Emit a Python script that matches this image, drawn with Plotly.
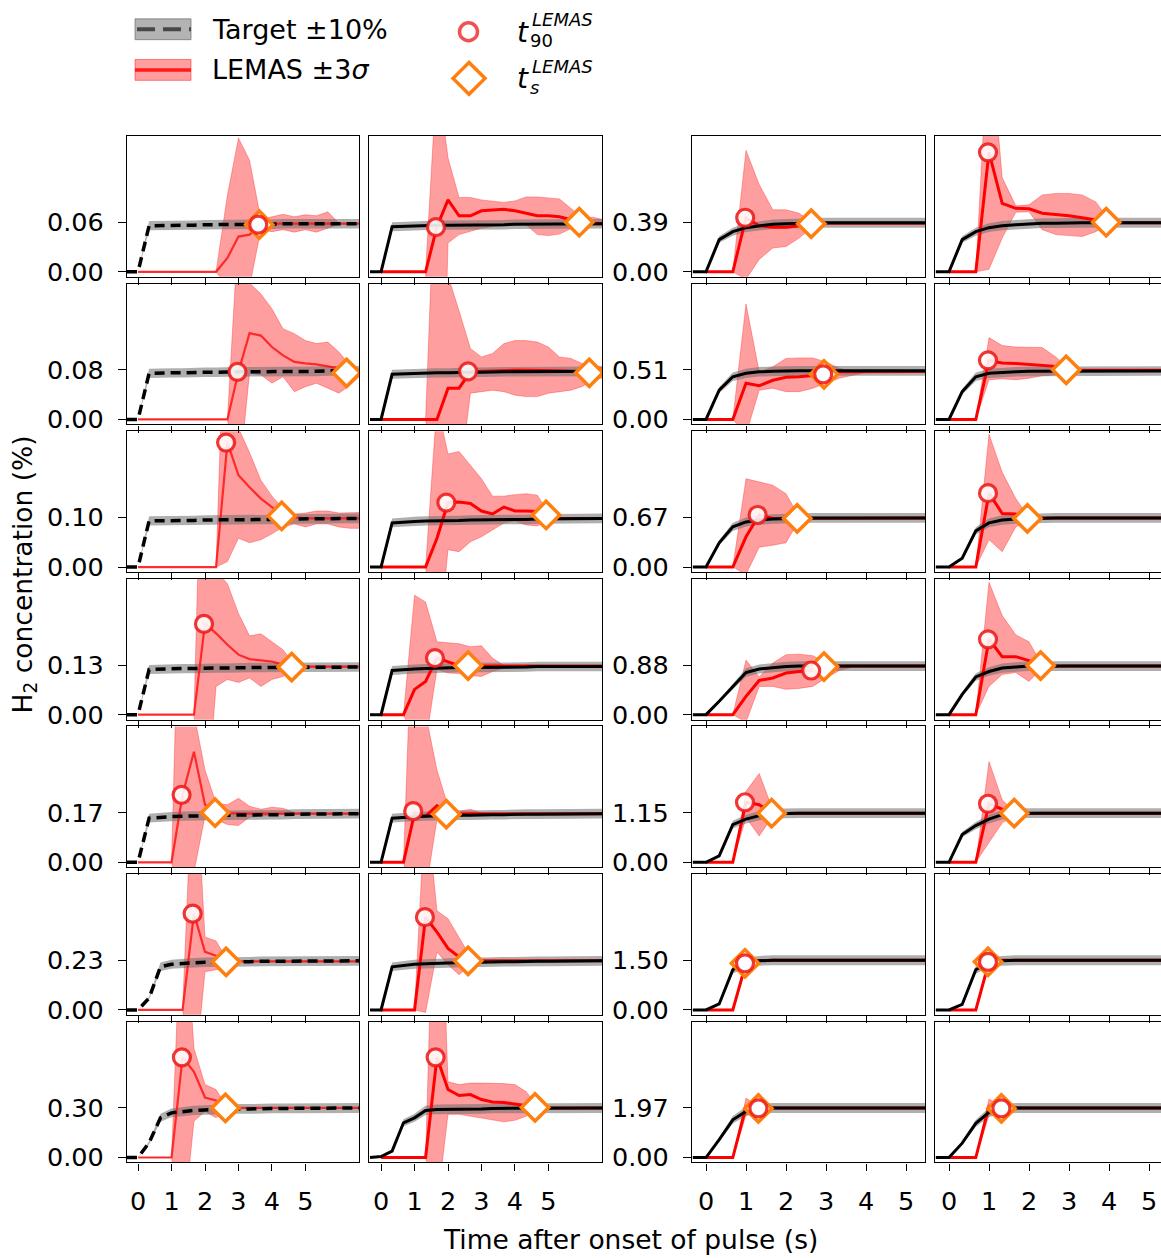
import plotly.graph_objects as go

# ---------------- data ----------------
time_s = [-0.33, 0.0, 0.33, 0.67, 1.0, 1.33, 1.67, 2.0, 2.33, 2.67, 3.0, 3.33,
          3.67, 4.0, 4.33, 4.67, 5.0, 5.33, 5.67, 6.0, 6.33, 6.67]
time_lemas = [0.0, 0.33, 0.67, 1.0, 1.33, 1.67, 2.0, 2.33, 2.67, 3.0, 3.33,
              3.67, 4.0, 4.33, 4.67, 5.0, 5.33, 5.67, 6.0, 6.33, 6.67]

target_left = [0.06, 0.08, 0.10, 0.13, 0.17, 0.23, 0.30]
target_right = [0.39, 0.51, 0.67, 0.88, 1.15, 1.50, 1.97]
x_tick_labels = [0, 1, 2, 3, 4, 5]

# values relative to the target concentration of each panel
# row 1
tgt_1_1 = [0, 0, 0.93, 0.93, 0.94, 0.94, 0.94, 0.95, 0.95, 0.95, 0.96, 0.96, 0.96, 0.96, 0.97, 0.97, 0.97, 0.97, 0.97, 0.97, 0.97, 0.97]
mu_1_1 = [0, 0, 0, 0, 0, 0, 0, 0, 0.28, 0.71, 0.75, 0.95, 0.97, 0.97, 0.97, 0.97, 0.97, 0.97, 0.97, 0.97, 0.97]
lo_1_1 = [0, 0, 0, 0, 0, 0, 0, 0, -0.3, -0.5, -0.3, 0.85, 0.81, 0.85, 0.8, 0.85, 0.8, 0.88, 0.96, 0.96, 0.96]
hi_1_1 = [0, 0, 0, 0, 0, 0, 0, 0, 1.55, 2.7, 2.25, 1.05, 1.11, 1.16, 1.11, 1.15, 1.13, 1.21, 0.98, 0.98, 0.98]

tgt_1_2 = [0, 0, 0.91, 0.92, 0.93, 0.93, 0.94, 0.94, 0.94, 0.95, 0.95, 0.95, 0.95, 0.96, 0.96, 0.96, 0.96, 0.96, 0.97, 0.97, 0.97, 0.97]
mu_1_2 = [0, 0, 0, 0, 0, 0.91, 1.45, 1.13, 1.13, 1.23, 1.25, 1.26, 1.23, 1.18, 1.13, 1.13, 1.11, 1.05, 0.99, 0.97, 0.97]
lo_1_2 = [0, 0, 0, 0, 0, -8.0, 0.58, 0.75, 0.81, 0.88, 0.91, 0.93, 0.98, 0.95, 0.75, 0.73, 0.76, 0.87, 0.95, 0.95, 0.95]
hi_1_2 = [0, 0, 0, 0, 0, 4.0, 2.3, 1.5, 1.5, 1.45, 1.43, 1.4, 1.43, 1.51, 1.51, 1.49, 1.47, 1.28, 1.09, 1.1, 1.05]

tgt_1_3 = [0, 0, 0.65, 0.81, 0.89, 0.93, 0.96, 0.97, 0.98, 0.98, 0.99, 0.99, 0.99, 0.99, 0.99, 0.99, 0.99, 0.99, 0.99, 0.99, 0.99, 0.99]
mu_1_3 = [0, 0, 0, 1.09, 0.93, 0.9, 0.9, 0.93, 0.97, 0.98, 0.98, 0.98, 0.98, 0.98, 0.98, 0.98, 0.98, 0.98, 0.98, 0.98, 0.98]
lo_1_3 = [0, 0, 0, -0.15, 0.25, 0.48, 0.51, 0.68, 0.91, 0.98, 0.98, 0.98, 0.98, 0.98, 0.98, 0.98, 0.98, 0.98, 0.98, 0.98, 0.98]
hi_1_3 = [0, 0, 0, 2.45, 1.76, 1.25, 1.25, 1.18, 0.99, 0.98, 0.98, 0.98, 0.98, 0.98, 0.98, 0.98, 0.98, 0.98, 0.98, 0.98, 0.98]

tgt_1_4 = [0, 0, 0.65, 0.81, 0.89, 0.93, 0.95, 0.97, 0.98, 0.98, 0.99, 0.99, 0.99, 0.99, 0.99, 0.99, 0.99, 0.99, 0.99, 0.99, 0.99, 0.99]
mu_1_4 = [0, 0, 0, 2.41, 1.38, 1.28, 1.27, 1.18, 1.16, 1.13, 1.09, 1.05, 1.0, 0.99, 0.99, 0.99, 0.99, 0.99, 0.99, 0.99, 0.99]
lo_1_4 = [0, 0, 0, 0.05, 0.68, 1.2, 1.21, 0.85, 0.75, 0.73, 0.71, 0.81, 0.98, 0.99, 0.99, 0.99, 0.99, 0.99, 0.99, 0.99, 0.99]
hi_1_4 = [0, 0, 0, 5.0, 1.9, 1.33, 1.35, 1.55, 1.58, 1.58, 1.55, 1.41, 1.05, 0.99, 0.99, 0.99, 0.99, 0.99, 0.99, 0.99, 0.99]

# row 2
tgt_2_1 = [0, 0, 0.93, 0.94, 0.94, 0.94, 0.95, 0.95, 0.95, 0.96, 0.96, 0.96, 0.96, 0.97, 0.97, 0.97, 0.97, 0.97, 0.98, 0.98, 0.98, 0.98]
mu_2_1 = [0, 0, 0, 0, 0, 0, 0, 0, 0, 0.96, 1.74, 1.69, 1.46, 1.29, 1.16, 1.13, 1.11, 1.07, 1.03, 0.96, 0.97]
lo_2_1 = [0, 0, 0, 0, 0, 0, 0, 0, 0, -1.3, 0.93, 0.9, 0.73, 0.86, 0.56, 0.66, 0.73, 0.63, 0.53, 0.69, 0.9]
hi_2_1 = [0, 0, 0, 0, 0, 0, 0, 0, 0, 3.9, 2.75, 2.53, 2.23, 1.83, 1.73, 1.59, 1.53, 1.56, 1.36, 1.09, 1.0]

tgt_2_2 = [0, 0, 0.91, 0.92, 0.93, 0.93, 0.94, 0.94, 0.95, 0.95, 0.95, 0.96, 0.96, 0.96, 0.96, 0.97, 0.97, 0.97, 0.97, 0.97, 0.97, 0.97]
mu_2_2 = [0, 0, 0, 0, 0, 0, 0.63, 0.63, 0.96, 0.97, 0.97, 0.98, 0.99, 0.99, 0.99, 0.99, 0.98, 0.97, 0.96, 0.95, 0.95]
lo_2_2 = [0, 0, 0, 0, 0, -1.5, -1.5, -1.33, 0.53, 0.56, 0.59, 0.56, 0.49, 0.46, 0.46, 0.53, 0.56, 0.59, 0.66, 0.79, 0.85]
hi_2_2 = [0, 0, 0, 0, 0, 6.0, 2.9, 2.19, 1.43, 1.26, 1.33, 1.53, 1.59, 1.59, 1.56, 1.46, 1.26, 1.23, 1.13, 1.09, 1.05]

tgt_2_3 = [0, 0, 0.59, 0.86, 0.93, 0.96, 0.97, 0.98, 0.98, 0.98, 0.98, 0.98, 0.98, 0.98, 0.98, 0.98, 0.98, 0.98, 0.98, 0.98, 0.98, 0.98]
mu_2_3 = [0, 0, 0, 0.73, 0.68, 0.79, 0.85, 0.86, 0.89, 0.91, 0.96, 0.96, 0.97, 0.97, 0.97, 0.97, 0.97, 0.97, 0.97, 0.97, 0.97]
lo_2_3 = [0, 0, 0, -0.3, 0.59, 0.63, 0.56, 0.56, 0.63, 0.73, 0.83, 0.89, 0.95, 0.96, 0.97, 0.97, 0.97, 0.97, 0.97, 0.97, 0.97]
hi_2_3 = [0, 0, 0, 2.33, 0.96, 1.06, 1.23, 1.24, 1.24, 1.16, 1.03, 0.97, 0.97, 0.97, 0.97, 0.97, 0.97, 0.97, 0.97, 0.97, 0.97]

tgt_2_4 = [0, 0, 0.56, 0.86, 0.93, 0.95, 0.96, 0.97, 0.97, 0.98, 0.98, 0.98, 0.98, 0.98, 0.98, 0.98, 0.98, 0.98, 0.98, 0.98, 0.98, 0.98]
mu_2_4 = [0, 0, 0, 1.19, 1.14, 1.13, 1.11, 1.09, 1.07, 1.01, 0.99, 0.99, 0.99, 0.99, 0.99, 0.99, 0.99, 0.99, 0.99, 0.99, 0.99]
lo_2_4 = [0, 0, 0, 0.8, 0.82, 0.8, 0.83, 0.88, 0.9, 0.97, 0.99, 0.99, 0.99, 0.99, 0.99, 0.99, 0.99, 0.99, 0.99, 0.99, 0.99]
hi_2_4 = [0, 0, 0, 1.65, 1.49, 1.46, 1.46, 1.45, 1.26, 1.01, 0.99, 0.99, 0.99, 0.99, 0.99, 0.99, 0.99, 0.99, 0.99, 0.99, 0.99]

# row 3
tgt_3_1 = [0, 0, 0.93, 0.93, 0.94, 0.94, 0.94, 0.95, 0.95, 0.95, 0.95, 0.96, 0.96, 0.96, 0.96, 0.97, 0.97, 0.97, 0.97, 0.97, 0.98, 0.98]
mu_3_1 = [0, 0, 0, 0, 0, 0, 0, 0, 2.51, 1.85, 1.61, 1.38, 1.21, 1.05, 1.0, 0.98, 0.98, 0.98, 0.98, 0.98, 0.98]
lo_3_1 = [0, 0, 0, 0, 0, 0, 0, 0, 0.11, 0.58, 0.49, 0.55, 0.67, 0.81, 0.87, 0.81, 0.87, 0.87, 0.81, 0.78, 0.78]
hi_3_1 = [0, 0, 0, 0, 0, 0, 0, 0, 7.0, 2.8, 2.31, 1.75, 1.43, 1.18, 1.07, 1.09, 1.13, 1.13, 1.09, 1.09, 1.1]

tgt_3_2 = [0, 0, 0.89, 0.91, 0.92, 0.93, 0.93, 0.94, 0.94, 0.95, 0.95, 0.95, 0.96, 0.96, 0.96, 0.97, 0.97, 0.97, 0.97, 0.98, 0.98, 0.98]
mu_3_2 = [0, 0, 0, 0, 0, 0.58, 1.3, 1.31, 1.28, 1.13, 1.07, 1.21, 1.13, 1.13, 1.12, 1.01, 0.98, 0.98, 0.98, 0.98, 0.98]
lo_3_2 = [0, 0, 0, 0, 0, -1.9, 0.35, 0.31, 0.51, 0.61, 0.75, 0.89, 0.93, 0.85, 0.83, 0.95, 0.97, 0.97, 0.97, 0.97, 0.97]
hi_3_2 = [0, 0, 0, 0, 0, 3.3, 2.28, 2.33, 2.05, 1.78, 1.43, 1.43, 1.46, 1.48, 1.45, 1.09, 1.0, 1.0, 1.0, 1.0, 1.0]

tgt_3_3 = [0, 0, 0.49, 0.81, 0.91, 0.95, 0.97, 0.98, 0.99, 0.99, 0.99, 0.99, 0.99, 0.99, 0.99, 0.99, 0.99, 0.99, 0.99, 0.99, 0.99, 0.99]
mu_3_3 = [0, 0, 0, 0.61, 1.05, 0.98, 0.98, 0.98, 0.99, 0.99, 0.99, 0.99, 0.99, 0.99, 0.99, 0.99, 0.99, 0.99, 0.99, 0.99, 0.99]
lo_3_3 = [0, 0, 0, -0.15, 0.4, 0.44, 0.49, 0.95, 0.99, 0.99, 0.99, 0.99, 0.99, 0.99, 0.99, 0.99, 0.99, 0.99, 0.99, 0.99, 0.99]
hi_3_3 = [0, 0, 0, 1.78, 1.71, 1.65, 1.48, 1.01, 0.99, 0.99, 0.99, 0.99, 0.99, 0.99, 0.99, 0.99, 0.99, 0.99, 0.99, 0.99, 0.99]

tgt_3_4 = [0, 0, 0.18, 0.73, 0.89, 0.95, 0.97, 0.98, 0.99, 0.99, 0.99, 0.99, 0.99, 0.99, 0.99, 0.99, 0.99, 0.99, 0.99, 0.99, 0.99, 0.99]
mu_3_4 = [0, 0, 0, 1.49, 1.08, 1.07, 0.98, 0.99, 0.99, 0.99, 0.99, 0.99, 0.99, 0.99, 0.99, 0.99, 0.99, 0.99, 0.99, 0.99, 0.99]
lo_3_4 = [0, 0, 0, 0.55, 0.31, 0.81, 0.95, 0.99, 0.99, 0.99, 0.99, 0.99, 0.99, 0.99, 0.99, 0.99, 0.99, 0.99, 0.99, 0.99, 0.99]
hi_3_4 = [0, 0, 0, 2.68, 1.91, 1.38, 1.0, 0.99, 0.99, 0.99, 0.99, 0.99, 0.99, 0.99, 0.99, 0.99, 0.99, 0.99, 0.99, 0.99, 0.99]

# row 4
tgt_4_1 = [0, 0, 0.91, 0.92, 0.92, 0.93, 0.93, 0.94, 0.94, 0.94, 0.95, 0.95, 0.95, 0.95, 0.96, 0.96, 0.96, 0.96, 0.96, 0.96, 0.96, 0.96]
mu_4_1 = [0, 0, 0, 0, 0, 0, 1.84, 1.64, 1.41, 1.21, 1.12, 1.09, 1.07, 1.01, 0.96, 0.97, 0.97, 0.97, 0.97, 0.97, 0.97]
lo_4_1 = [0, 0, 0, 0, 0, 0, -2.2, 0.57, 0.71, 0.65, 0.74, 0.57, 0.71, 0.77, 0.91, 0.95, 0.95, 0.95, 0.95, 0.95, 0.95]
hi_4_1 = [0, 0, 0, 0, 0, 0, 8.3, 2.9, 2.64, 2.04, 1.59, 1.63, 1.47, 1.31, 1.01, 0.98, 0.98, 0.98, 0.98, 0.98, 0.98]

tgt_4_2 = [0, 0, 0.89, 0.91, 0.92, 0.93, 0.94, 0.94, 0.95, 0.95, 0.95, 0.96, 0.96, 0.96, 0.96, 0.97, 0.97, 0.97, 0.97, 0.97, 0.97, 0.97]
mu_4_2 = [0, 0, 0, 0.51, 0.67, 1.14, 1.07, 0.99, 0.98, 0.98, 0.98, 0.98, 0.98, 0.98, 0.98, 0.98, 0.98, 0.98, 0.98, 0.98, 0.98]
lo_4_2 = [0, 0, 0, -0.5, -0.58, 0.91, 0.84, 0.83, 0.79, 0.77, 0.87, 0.94, 0.97, 0.97, 0.97, 0.97, 0.97, 0.97, 0.97, 0.97, 0.97]
hi_4_2 = [0, 0, 0, 2.41, 2.27, 1.47, 1.45, 1.43, 1.37, 1.39, 1.14, 0.99, 0.98, 0.98, 0.98, 0.98, 0.98, 0.98, 0.98, 0.98, 0.98]

tgt_4_3 = [0, 0, 0.27, 0.57, 0.85, 0.92, 0.95, 0.97, 0.98, 0.98, 0.98, 0.98, 0.98, 0.98, 0.98, 0.98, 0.98, 0.98, 0.98, 0.98, 0.98, 0.98]
mu_4_3 = [0, 0, 0, 0.37, 0.69, 0.74, 0.84, 0.87, 0.89, 0.97, 0.98, 0.98, 0.98, 0.98, 0.98, 0.98, 0.98, 0.98, 0.98, 0.98, 0.98]
lo_4_3 = [0, 0, 0, -0.15, 0.57, 0.57, 0.51, 0.53, 0.57, 0.74, 0.89, 0.96, 0.98, 0.98, 0.98, 0.98, 0.98, 0.98, 0.98, 0.98, 0.98]
hi_4_3 = [0, 0, 0, 1.1, 0.76, 1.04, 1.21, 1.22, 1.19, 1.05, 1.0, 0.99, 0.98, 0.98, 0.98, 0.98, 0.98, 0.98, 0.98, 0.98, 0.98]

tgt_4_4 = [0, 0, 0.41, 0.76, 0.87, 0.94, 0.96, 0.98, 0.98, 0.98, 0.98, 0.98, 0.98, 0.98, 0.98, 0.98, 0.98, 0.98, 0.98, 0.98, 0.98, 0.98]
mu_4_4 = [0, 0, 0, 1.52, 1.17, 1.17, 1.09, 0.97, 0.98, 0.98, 0.98, 0.98, 0.98, 0.98, 0.98, 0.98, 0.98, 0.98, 0.98, 0.98, 0.98]
lo_4_4 = [0, 0, 0, 0.57, 0.81, 0.85, 0.67, 0.94, 0.98, 0.98, 0.98, 0.98, 0.98, 0.98, 0.98, 0.98, 0.98, 0.98, 0.98, 0.98, 0.98]
hi_4_4 = [0, 0, 0, 2.67, 2.0, 1.61, 1.47, 1.0, 0.98, 0.98, 0.98, 0.98, 0.98, 0.98, 0.98, 0.98, 0.98, 0.98, 0.98, 0.98, 0.98]

# row 5
tgt_5_1 = [0, 0, 0.89, 0.91, 0.92, 0.93, 0.93, 0.94, 0.94, 0.95, 0.95, 0.95, 0.96, 0.96, 0.96, 0.97, 0.97, 0.97, 0.97, 0.98, 0.98, 0.98]
mu_5_1 = [0, 0, 0, 0, 1.36, 2.23, 1.16, 1.01, 0.99, 0.98, 0.98, 0.98, 0.98, 0.98, 0.98, 0.98, 0.98, 0.98, 0.98, 0.98, 0.98]
lo_5_1 = [0, 0, 0, 0, -1.0, -0.2, 0.93, 0.86, 0.76, 0.74, 0.91, 0.93, 0.96, 0.97, 0.97, 0.97, 0.97, 0.97, 0.97, 0.97, 0.97]
hi_5_1 = [0, 0, 0, 0, 8.3, 3.0, 1.86, 1.19, 1.16, 1.29, 1.13, 1.07, 1.11, 1.09, 1.0, 0.99, 0.99, 0.99, 0.99, 0.99, 0.99]

tgt_5_2 = [0, 0, 0.89, 0.91, 0.92, 0.93, 0.94, 0.94, 0.95, 0.95, 0.96, 0.96, 0.96, 0.97, 0.97, 0.97, 0.97, 0.98, 0.98, 0.98, 0.98, 0.98]
mu_5_2 = [0, 0, 0, 0.99, 0.93, 1.14, 0.96, 0.98, 0.98, 0.98, 0.98, 0.98, 0.98, 0.98, 0.98, 0.98, 0.98, 0.98, 0.98, 0.98, 0.98]
lo_5_2 = [0, 0, 0, -1.0, -0.6, 0.86, 0.89, 0.93, 0.96, 0.98, 0.98, 0.98, 0.98, 0.98, 0.98, 0.98, 0.98, 0.98, 0.98, 0.98, 0.98]
hi_5_2 = [0, 0, 0, 6.2, 3.0, 1.86, 1.13, 1.03, 1.07, 0.99, 0.98, 0.98, 0.98, 0.98, 0.98, 0.98, 0.98, 0.98, 0.98, 0.98, 0.98]

tgt_5_3 = [0, 0, 0.13, 0.76, 0.87, 0.94, 0.98, 0.99, 0.99, 0.99, 0.99, 0.99, 0.99, 0.99, 0.99, 0.99, 0.99, 0.99, 0.99, 0.99, 0.99, 0.99]
mu_5_3 = [0, 0, 0, 1.21, 1.16, 0.98, 0.99, 0.99, 0.99, 0.99, 0.99, 0.99, 0.99, 0.99, 0.99, 0.99, 0.99, 0.99, 0.99, 0.99, 0.99]
lo_5_3 = [0, 0, 0, 0.9, 0.53, 0.93, 0.99, 0.99, 0.99, 0.99, 0.99, 0.99, 0.99, 0.99, 0.99, 0.99, 0.99, 0.99, 0.99, 0.99, 0.99]
hi_5_3 = [0, 0, 0, 1.43, 1.79, 1.06, 0.99, 0.99, 0.99, 0.99, 0.99, 0.99, 0.99, 0.99, 0.99, 0.99, 0.99, 0.99, 0.99, 0.99, 0.99]

tgt_5_4 = [0, 0, 0.56, 0.74, 0.87, 0.96, 0.99, 0.99, 0.99, 0.99, 0.99, 0.99, 0.99, 0.99, 0.99, 0.99, 0.99, 0.99, 0.99, 0.99, 0.99, 0.99]
mu_5_4 = [0, 0, 0, 1.18, 1.07, 0.98, 0.99, 0.99, 0.99, 0.99, 0.99, 0.99, 0.99, 0.99, 0.99, 0.99, 0.99, 0.99, 0.99, 0.99, 0.99]
lo_5_4 = [0, 0, 0, 0.4, 0.79, 0.98, 0.99, 0.99, 0.99, 0.99, 0.99, 0.99, 0.99, 0.99, 0.99, 0.99, 0.99, 0.99, 0.99, 0.99, 0.99]
hi_5_4 = [0, 0, 0, 2.03, 1.26, 0.99, 0.99, 0.99, 0.99, 0.99, 0.99, 0.99, 0.99, 0.99, 0.99, 0.99, 0.99, 0.99, 0.99, 0.99, 0.99]

# row 6
tgt_6_1 = [0, 0, 0.24, 0.87, 0.92, 0.94, 0.95, 0.96, 0.96, 0.97, 0.97, 0.97, 0.98, 0.98, 0.98, 0.98, 0.99, 0.99, 0.99, 0.99, 0.99, 0.99]
mu_6_1 = [0, 0, 0, 0, 0, 1.94, 1.17, 1.09, 0.97, 0.98, 0.98, 0.98, 0.98, 0.98, 0.98, 0.98, 0.98, 0.98, 0.98, 0.98, 0.98]
lo_6_1 = [0, 0, 0, 0, 0, -1.5, 0.77, 0.81, 0.87, 0.97, 0.98, 0.98, 0.98, 0.98, 0.98, 0.98, 0.98, 0.98, 0.98, 0.98, 0.98]
hi_6_1 = [0, 0, 0, 0, 0, 5.5, 1.47, 1.39, 1.0, 0.98, 0.98, 0.98, 0.98, 0.98, 0.98, 0.98, 0.98, 0.98, 0.98, 0.98, 0.98]

tgt_6_2 = [0, 0, 0.87, 0.9, 0.92, 0.93, 0.94, 0.95, 0.95, 0.96, 0.96, 0.97, 0.97, 0.97, 0.98, 0.98, 0.98, 0.98, 0.99, 0.99, 0.99, 0.99]
mu_6_2 = [0, 0, 0, 0, 1.87, 1.57, 1.24, 1.07, 0.99, 0.99, 0.99, 0.99, 0.99, 0.99, 0.99, 0.99, 0.99, 0.99, 0.99, 0.99, 0.99]
lo_6_2 = [0, 0, 0, 0, -0.05, 1.17, 0.91, 0.71, 0.91, 0.98, 0.98, 0.98, 0.98, 0.98, 0.98, 0.98, 0.98, 0.98, 0.98, 0.98, 0.98]
hi_6_2 = [0, 0, 0, 0, 4.3, 2.0, 1.84, 1.47, 1.07, 1.0, 1.0, 1.0, 1.0, 1.0, 1.0, 1.0, 1.0, 1.0, 1.0, 1.0, 1.0]

tgt_6_3 = [0, 0, 0.12, 0.81, 0.96, 0.99, 1.0, 1.0, 1.0, 1.0, 1.0, 1.0, 1.0, 1.0, 1.0, 1.0, 1.0, 1.0, 1.0, 1.0, 1.0, 1.0]
mu_6_3 = [0, 0, 0, 0.94, 0.99, 1.0, 1.0, 1.0, 1.0, 1.0, 1.0, 1.0, 1.0, 1.0, 1.0, 1.0, 1.0, 1.0, 1.0, 1.0, 1.0]
lo_6_3 = [0, 0, 0, 0.85, 0.97, 1.0, 1.0, 1.0, 1.0, 1.0, 1.0, 1.0, 1.0, 1.0, 1.0, 1.0, 1.0, 1.0, 1.0, 1.0, 1.0]
hi_6_3 = [0, 0, 0, 1.03, 1.01, 1.0, 1.0, 1.0, 1.0, 1.0, 1.0, 1.0, 1.0, 1.0, 1.0, 1.0, 1.0, 1.0, 1.0, 1.0, 1.0]

tgt_6_4 = [0, 0, 0.11, 0.81, 0.96, 0.99, 1.0, 1.0, 1.0, 1.0, 1.0, 1.0, 1.0, 1.0, 1.0, 1.0, 1.0, 1.0, 1.0, 1.0, 1.0, 1.0]
mu_6_4 = [0, 0, 0, 0.97, 1.0, 1.0, 1.0, 1.0, 1.0, 1.0, 1.0, 1.0, 1.0, 1.0, 1.0, 1.0, 1.0, 1.0, 1.0, 1.0, 1.0]
lo_6_4 = [0, 0, 0, 0.88, 0.98, 1.0, 1.0, 1.0, 1.0, 1.0, 1.0, 1.0, 1.0, 1.0, 1.0, 1.0, 1.0, 1.0, 1.0, 1.0, 1.0]
hi_6_4 = [0, 0, 0, 1.05, 1.01, 1.0, 1.0, 1.0, 1.0, 1.0, 1.0, 1.0, 1.0, 1.0, 1.0, 1.0, 1.0, 1.0, 1.0, 1.0, 1.0]

# row 7
tgt_7_1 = [0, 0, 0.3, 0.8, 0.9, 0.93, 0.95, 0.96, 0.97, 0.98, 0.98, 0.98, 0.99, 0.99, 0.99, 0.99, 0.99, 1.0, 1.0, 1.0, 1.0, 1.0]
mu_7_1 = [0, 0, 0, 0, 2.02, 1.73, 1.21, 1.15, 1.0, 1.0, 1.0, 1.0, 1.0, 1.0, 1.0, 1.0, 1.0, 1.0, 1.0, 1.0, 1.0]
lo_7_1 = [0, 0, 0, 0, -1.5, 0.73, 0.93, 0.8, 0.97, 0.99, 0.99, 0.99, 0.99, 0.99, 0.99, 0.99, 0.99, 0.99, 0.99, 0.99, 0.99]
hi_7_1 = [0, 0, 0, 0, 5.7, 2.2, 1.47, 1.37, 1.0, 1.0, 1.0, 1.0, 1.0, 1.0, 1.0, 1.0, 1.0, 1.0, 1.0, 1.0, 1.0]

tgt_7_2 = [0, 0.02, 0.13, 0.7, 0.8, 0.95, 0.97, 0.97, 0.98, 0.98, 0.98, 0.99, 0.99, 0.99, 0.99, 0.99, 0.99, 0.99, 1.0, 1.0, 1.0, 1.0]
mu_7_2 = [0, 0, 0, 0, 0, 2.02, 1.37, 1.25, 1.27, 1.17, 1.12, 1.11, 1.08, 1.05, 1.01, 1.0, 1.0, 1.0, 1.0, 1.0, 1.0]
lo_7_2 = [0, 0, 0, 0, 0, -1.0, 0.87, 0.87, 0.83, 0.8, 0.75, 0.72, 0.75, 0.83, 0.97, 0.99, 0.99, 0.99, 0.99, 0.99, 0.99]
hi_7_2 = [0, 0, 0, 0, 0, 8.0, 1.53, 1.47, 1.5, 1.5, 1.5, 1.49, 1.47, 1.33, 1.03, 1.0, 1.0, 1.0, 1.0, 1.0, 1.0]

tgt_7_3 = [0, 0, 0.36, 0.76, 0.93, 0.99, 1.0, 1.0, 1.0, 1.0, 1.0, 1.0, 1.0, 1.0, 1.0, 1.0, 1.0, 1.0, 1.0, 1.0, 1.0, 1.0]
mu_7_3 = [0, 0, 0, 1.02, 0.99, 1.0, 1.0, 1.0, 1.0, 1.0, 1.0, 1.0, 1.0, 1.0, 1.0, 1.0, 1.0, 1.0, 1.0, 1.0, 1.0]
lo_7_3 = [0, 0, 0, 0.85, 0.97, 1.0, 1.0, 1.0, 1.0, 1.0, 1.0, 1.0, 1.0, 1.0, 1.0, 1.0, 1.0, 1.0, 1.0, 1.0, 1.0]
hi_7_3 = [0, 0, 0, 1.2, 1.02, 1.0, 1.0, 1.0, 1.0, 1.0, 1.0, 1.0, 1.0, 1.0, 1.0, 1.0, 1.0, 1.0, 1.0, 1.0, 1.0]

tgt_7_4 = [0, 0, 0.29, 0.69, 0.91, 0.98, 1.0, 1.0, 1.0, 1.0, 1.0, 1.0, 1.0, 1.0, 1.0, 1.0, 1.0, 1.0, 1.0, 1.0, 1.0, 1.0]
mu_7_4 = [0, 0, 0, 1.03, 0.99, 1.0, 1.0, 1.0, 1.0, 1.0, 1.0, 1.0, 1.0, 1.0, 1.0, 1.0, 1.0, 1.0, 1.0, 1.0, 1.0]
lo_7_4 = [0, 0, 0, 0.85, 0.97, 1.0, 1.0, 1.0, 1.0, 1.0, 1.0, 1.0, 1.0, 1.0, 1.0, 1.0, 1.0, 1.0, 1.0, 1.0, 1.0]
hi_7_4 = [0, 0, 0, 1.18, 1.02, 1.0, 1.0, 1.0, 1.0, 1.0, 1.0, 1.0, 1.0, 1.0, 1.0, 1.0, 1.0, 1.0, 1.0, 1.0, 1.0]

# markers (row-major: row 1 col 1..4, row 2 ...)
t90_time = [3.59, 1.64, 0.98, 0.975,
            2.97, 2.6, 2.93, 0.975,
            2.63, 1.95, 1.29, 0.975,
            1.97, 1.61, 2.63, 0.975,
            1.3, 0.96, 0.975, 0.975,
            1.63, 1.31, 0.975, 0.975,
            1.31, 1.63, 1.31, 1.31]
t90_rel = [0.95, 0.9, 1.09, 2.41,
           0.96, 0.97, 0.91, 1.19,
           2.51, 1.3, 1.05, 1.49,
           1.83, 1.14, 0.89, 1.52,
           1.36, 1.03, 1.21, 1.18,
           1.94, 1.87, 0.94, 0.97,
           2.02, 2.02, 0.99, 0.99]
ts_time = [3.62, 5.92, 2.63, 3.93,
           6.23, 6.22, 2.95, 2.93,
           4.29, 4.93, 2.28, 1.96,
           4.59, 2.6, 2.95, 2.29,
           2.3, 1.95, 1.64, 1.63,
           2.63, 2.6, 0.975, 0.975,
           2.61, 4.6, 1.31, 1.31]
ts_rel = [0.95, 1.0, 0.97, 1.0,
          0.94, 0.94, 0.91, 1.0,
          1.03, 1.05, 0.98, 0.98,
          0.96, 0.99, 0.97, 0.99,
          1.0, 0.97, 0.99, 0.99,
          0.97, 0.99, 0.94, 0.97,
          1.0, 1.01, 0.99, 0.99]

panels = [
    [(tgt_1_1, mu_1_1, lo_1_1, hi_1_1), (tgt_1_2, mu_1_2, lo_1_2, hi_1_2), (tgt_1_3, mu_1_3, lo_1_3, hi_1_3), (tgt_1_4, mu_1_4, lo_1_4, hi_1_4)],
    [(tgt_2_1, mu_2_1, lo_2_1, hi_2_1), (tgt_2_2, mu_2_2, lo_2_2, hi_2_2), (tgt_2_3, mu_2_3, lo_2_3, hi_2_3), (tgt_2_4, mu_2_4, lo_2_4, hi_2_4)],
    [(tgt_3_1, mu_3_1, lo_3_1, hi_3_1), (tgt_3_2, mu_3_2, lo_3_2, hi_3_2), (tgt_3_3, mu_3_3, lo_3_3, hi_3_3), (tgt_3_4, mu_3_4, lo_3_4, hi_3_4)],
    [(tgt_4_1, mu_4_1, lo_4_1, hi_4_1), (tgt_4_2, mu_4_2, lo_4_2, hi_4_2), (tgt_4_3, mu_4_3, lo_4_3, hi_4_3), (tgt_4_4, mu_4_4, lo_4_4, hi_4_4)],
    [(tgt_5_1, mu_5_1, lo_5_1, hi_5_1), (tgt_5_2, mu_5_2, lo_5_2, hi_5_2), (tgt_5_3, mu_5_3, lo_5_3, hi_5_3), (tgt_5_4, mu_5_4, lo_5_4, hi_5_4)],
    [(tgt_6_1, mu_6_1, lo_6_1, hi_6_1), (tgt_6_2, mu_6_2, lo_6_2, hi_6_2), (tgt_6_3, mu_6_3, lo_6_3, hi_6_3), (tgt_6_4, mu_6_4, lo_6_4, hi_6_4)],
    [(tgt_7_1, mu_7_1, lo_7_1, hi_7_1), (tgt_7_2, mu_7_2, lo_7_2, hi_7_2), (tgt_7_3, mu_7_3, lo_7_3, hi_7_3), (tgt_7_4, mu_7_4, lo_7_4, hi_7_4)],
]

# ---------------- layout / styling ----------------
W, H = 1161, 1258
FONT = "DejaVu Sans"
FS_TICK = 25.5
FS_TITLE = 26.5
FS_LEG = 27
COL_PX = [(127, 359), (369, 602), (692, 925), (935, 1161)]
X_RANGES = [[-0.33, 6.6], [-0.36, 6.6], [-0.35, 5.475], [-0.35, 5.3]]
ROW_TOP, ROW_STEP, ROW_H = 137.0, 148.8, 142.0


def px(xp):
    return xp / W


def py(yp):
    return 1 - yp / H


fig = go.Figure()
layout_axes = {}

for r in range(7):
    for c in range(4):
        n = r * 4 + c + 1
        xa = "x" if n == 1 else f"x{n}"
        ya = "y" if n == 1 else f"y{n}"
        tgt, mu, lo, hi = panels[r][c]
        conc = target_left[r] if c < 2 else target_right[r]
        tgt_abs = [v * conc for v in tgt]
        common = dict(xaxis=xa, yaxis=ya, hoverinfo="skip", showlegend=False)

        # LEMAS +-3 sigma band
        fig.add_trace(go.Scatter(x=time_lemas, y=[v * conc for v in lo], mode="lines",
                                 line=dict(color="rgba(255,0,0,0.3)", width=1), **common))
        fig.add_trace(go.Scatter(x=time_lemas, y=[v * conc for v in hi], mode="lines",
                                 fill="tonexty", fillcolor="rgba(255,0,0,0.38)",
                                 line=dict(color="rgba(255,0,0,0.3)", width=1), **common))
        # target +-10% band
        fig.add_trace(go.Scatter(x=time_s, y=[v * 0.9 for v in tgt_abs], mode="lines",
                                 line=dict(color="rgba(0,0,0,0)", width=0), **common))
        fig.add_trace(go.Scatter(x=time_s, y=[v * 1.1 for v in tgt_abs], mode="lines",
                                 fill="tonexty", fillcolor="rgba(110,110,110,0.55)",
                                 line=dict(color="rgba(0,0,0,0)", width=0), **common))
        # LEMAS mean
        fig.add_trace(go.Scatter(x=time_lemas, y=[v * conc for v in mu], mode="lines",
                                 line=dict(color="rgba(255,20,20,0.85)" if c == 0 else "#ff0000",
                                           width=2.2 if c == 0 else 3), **common))
        # target line
        fig.add_trace(go.Scatter(x=time_s, y=tgt_abs, mode="lines",
                                 line=dict(color="black", width=3.5 if c == 0 else 3,
                                           dash="10px,6px" if c == 0 else "solid"), **common))
        # markers
        i = n - 1
        fig.add_trace(go.Scatter(x=[ts_time[i]], y=[ts_rel[i] * conc], mode="markers",
                                 marker=dict(symbol="diamond", size=21, color="white",
                                             line=dict(color="#ff7f0e", width=3.5)),
                                 cliponaxis=True, **common))
        fig.add_trace(go.Scatter(x=[t90_time[i]], y=[t90_rel[i] * conc], mode="markers",
                                 marker=dict(symbol="circle", size=17, color="rgba(255,255,255,0.88)",
                                             line=dict(color="rgba(238,25,25,0.88)", width=3.2)),
                                 cliponaxis=True, **common))

        top = ROW_TOP + ROW_STEP * r
        xkey = "xaxis" if n == 1 else f"xaxis{n}"
        ykey = "yaxis" if n == 1 else f"yaxis{n}"
        layout_axes[xkey] = dict(
            domain=[px(COL_PX[c][0]), px(COL_PX[c][1])], range=X_RANGES[c], anchor=ya,
            showline=True, linecolor="black", linewidth=1.3, mirror=True,
            ticks="outside", ticklen=7, tickwidth=1.3, tickcolor="black",
            tickvals=x_tick_labels, showticklabels=(r == 6), ticklabelstandoff=9,
            tickfont=dict(family=FONT, size=FS_TICK, color="black"),
            showgrid=False, zeroline=False, fixedrange=True)
        layout_axes[ykey] = dict(
            domain=[py(top + ROW_H), py(top)], range=[-0.1 * conc, 2.74 * conc], anchor=xa,
            showline=True, linecolor="black", linewidth=1.3, mirror=(c != 3),
            ticks="outside" if c in (0, 2) else "", ticklen=8, tickwidth=1.3, tickcolor="black",
            tickvals=[0, conc], tickformat=".2f", showticklabels=(c in (0, 2)),
            ticklabelstandoff=9,
            tickfont=dict(family=FONT, size=FS_TICK, color="black"),
            showgrid=False, zeroline=False, fixedrange=True)

# ---------------- legend (drawn) ----------------
shapes = [
    dict(type="rect", xref="paper", yref="paper", x0=px(135), x1=px(191), y0=py(40), y1=py(19),
         fillcolor="rgba(128,128,128,0.6)", line=dict(color="rgba(110,110,110,0.7)", width=1)),
    dict(type="line", xref="paper", yref="paper", x0=px(137), x1=px(191), y0=py(29.5), y1=py(29.5),
         line=dict(color="rgba(60,60,60,0.9)", width=4, dash="18px,8px")),
    dict(type="rect", xref="paper", yref="paper", x0=px(135), x1=px(191), y0=py(81), y1=py(60),
         fillcolor="rgba(255,0,0,0.38)", line=dict(color="rgba(255,0,0,0.45)", width=1)),
    dict(type="line", xref="paper", yref="paper", x0=px(135), x1=px(191), y0=py(70.5), y1=py(70.5),
         line=dict(color="#ff1a1a", width=3.5)),
    dict(type="circle", xref="paper", yref="paper", x0=px(459.5), x1=px(477.5), y0=py(41), y1=py(23),
         fillcolor="white", line=dict(color="rgba(238,50,50,0.85)", width=3.5)),
    dict(type="path", xref="paper", yref="paper",
         path=f"M {px(453)},{py(79)} L {px(469)},{py(63)} L {px(485)},{py(79)} L {px(469)},{py(95)} Z",
         fillcolor="white", line=dict(color="#ff7f0e", width=3.5)),
]


def ann(text, x, y, size, xanchor="left", angle=0):
    return dict(text=text, x=px(x), y=py(y), xref="paper", yref="paper", showarrow=False,
                xanchor=xanchor, yanchor="middle", textangle=angle,
                font=dict(family=FONT, size=size, color="black"))


annotations = [
    ann("Target ±10%", 210, 30, FS_LEG),
    ann("LEMAS ±3<i>σ</i>", 210, 70, FS_LEG),
    ann("<i>t</i>", 515, 33, 28),
    ann("<i>LEMAS</i>", 530, 20, 18),
    ann("90", 528, 41, 18),
    ann("<i>t</i>", 515, 79, 28),
    ann("<i>LEMAS</i>", 530, 67, 18),
    ann("<i>s</i>", 528, 88, 18),
    ann("Time after onset of pulse (s)", 630.5, 1249, FS_TITLE, xanchor="center"),
    ann("H<sub>2</sub> concentration (%)", 24, 579, FS_TITLE, xanchor="center", angle=-90),
]

fig.update_layout(
    width=W, height=H, margin=dict(l=0, r=0, t=0, b=0),
    paper_bgcolor="white", plot_bgcolor="white", showlegend=False,
    font=dict(family=FONT, size=FS_TICK, color="black"),
    shapes=shapes, annotations=annotations, **layout_axes)

fig.write_html("out.html")
